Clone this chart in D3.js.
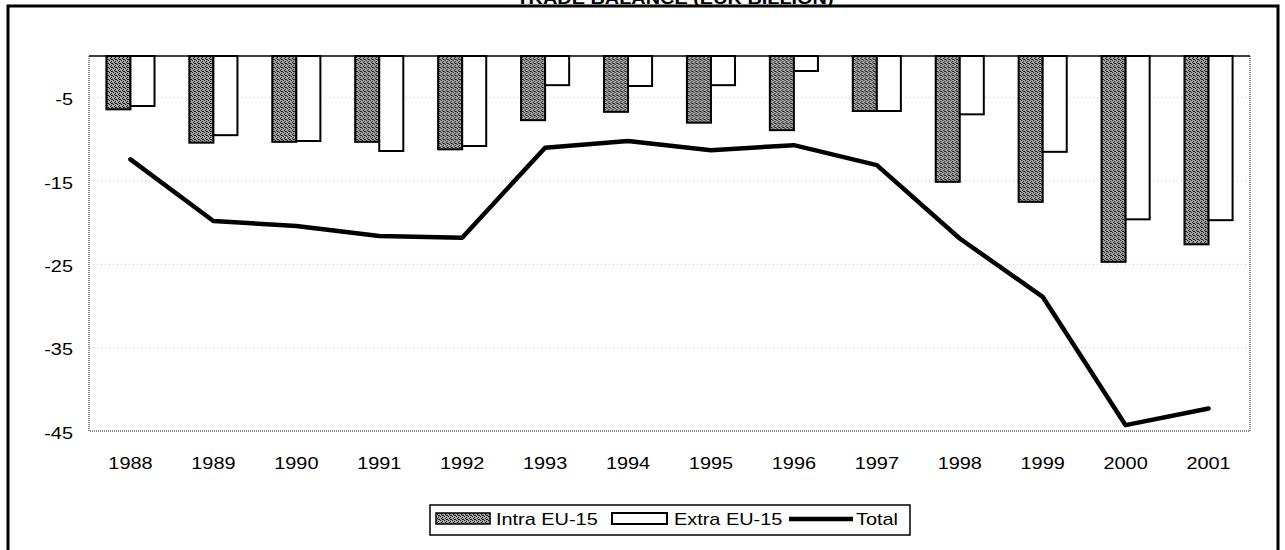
<!DOCTYPE html>
<html>
<head>
<meta charset="utf-8">
<script src="https://cdn.jsdelivr.net/npm/d3@7"></script>
<style>
  body { margin: 0; background: #fff; }
  svg { display: block; }
  text { font-family: "Liberation Sans", Arial, Helvetica, sans-serif; fill: #000; }
</style>
</head>
<body>
<svg id="chart" width="1285" height="550"></svg>
<script>
// Trade balance by partner zone, 1988-2001
const years = [1988, 1989, 1990, 1991, 1992, 1993, 1994, 1995, 1996, 1997, 1998, 1999, 2000, 2001];
const intraEU = [-6.4, -10.4, -10.3, -10.3, -11.2, -7.7, -6.7, -8.0, -8.9, -6.6, -15.1, -17.5, -24.7, -22.6];
const extraEU = [-6.0, -9.5, -10.2, -11.4, -10.8, -3.5, -3.6, -3.5, -1.8, -6.6, -7.0, -11.5, -19.6, -19.7];
const total = [-12.4, -19.8, -20.4, -21.6, -21.8, -11.0, -10.2, -11.3, -10.7, -13.1, -21.9, -28.9, -44.3, -42.3];
const yTicks = [-5, -15, -25, -35, -45];
const gridValues = [-5, -15, -25, -35];
const legendLabels = ["Intra EU-15", "Extra EU-15", "Total"];
const titleText = "TRADE BALANCE (EUR BILLION)";

const SX = 1.17; // the typeface is drawn slightly wide
const svg = d3.select("#chart");

const plot = { left: 89, right: 1250, top: 56, bottom: 431 };

const x = d3.scaleBand().domain(years).range([plot.left, plot.right]).padding(0);
const bw = x.bandwidth();
const xSub = d3.scaleBand().domain(["intra", "extra"]).range([bw * 0.21, bw * 0.79]).padding(0);
const y = d3.scaleLinear().domain([-45, 0]).range([plot.bottom, plot.top]);

// dithered grey fill
const defs = svg.append("defs");
const pat = defs.append("pattern")
  .attr("id", "dither").attr("patternUnits", "userSpaceOnUse")
  .attr("width", 4).attr("height", 4);
pat.append("rect").attr("width", 4).attr("height", 4).attr("fill", "#a8a8a8");
[[0, 0], [2, 1], [1, 2], [3, 3], [2, 3]].forEach(([px, py]) =>
  pat.append("rect").attr("x", px).attr("y", py).attr("width", 1).attr("height", 1).attr("fill", "#111"));

// outer frame
svg.append("path")
  .attr("d", "M8,560V6H1278V560")
  .attr("fill", "none").attr("stroke", "#000").attr("stroke-width", 3);

// title (sits on the top edge)
svg.append("text")
  .attr("transform", `translate(675,4) scale(${SX},1)`)
  .attr("text-anchor", "middle")
  .attr("font-weight", "bold").attr("font-size", 17)
  .text(titleText);

// gridlines
svg.append("g").selectAll("line").data(gridValues).join("line")
  .attr("x1", plot.left).attr("x2", plot.right)
  .attr("y1", d => y(d)).attr("y2", d => y(d))
  .attr("stroke", "#c4c4c4").attr("stroke-width", 1).attr("stroke-dasharray", "1,3");

// plot border (dotted) on left, right, bottom
svg.append("path")
  .attr("d", `M${plot.left},${plot.top}V${plot.bottom}H${plot.right}V${plot.top}`)
  .attr("fill", "none").attr("stroke", "#666").attr("stroke-width", 1.5).attr("stroke-dasharray", "1,1");

// bars
const groups = svg.append("g").selectAll("g").data(years).join("g")
  .attr("transform", d => `translate(${x(d)},0)`);

groups.append("rect")
  .attr("x", xSub("intra")).attr("width", xSub.bandwidth())
  .attr("y", y(0)).attr("height", (d, i) => y(intraEU[i]) - y(0))
  .attr("fill", "url(#dither)").attr("stroke", "#000").attr("stroke-width", 2);

groups.append("rect")
  .attr("x", xSub("extra")).attr("width", xSub.bandwidth())
  .attr("y", y(0)).attr("height", (d, i) => y(extraEU[i]) - y(0))
  .attr("fill", "#fff").attr("stroke", "#000").attr("stroke-width", 2);

// zero line
svg.append("line")
  .attr("x1", plot.left).attr("x2", plot.right)
  .attr("y1", y(0)).attr("y2", y(0))
  .attr("stroke", "#000").attr("stroke-width", 1.5);

// total line
const line = d3.line()
  .x((d, i) => x(years[i]) + bw / 2)
  .y(d => y(d));
svg.append("path")
  .datum(total)
  .attr("d", line)
  .attr("fill", "none").attr("stroke", "#000").attr("stroke-width", 4.5)
  .attr("stroke-linejoin", "round").attr("stroke-linecap", "round");

// y axis (plain hyphen-minus labels)
const yAxis = svg.append("g")
  .attr("transform", `translate(${plot.left},0)`)
  .call(d3.axisLeft(y).tickValues(yTicks).tickSize(0).tickFormat(d => String(d)));
yAxis.select(".domain").remove();
yAxis.selectAll("text")
  .attr("x", 0).attr("dy", null).attr("y", 0)
  .attr("font-size", 17).attr("font-family", null)
  .attr("transform", `translate(-16,7) scale(${SX},1)`);

// x axis
const xAxis = svg.append("g")
  .attr("transform", `translate(0,${plot.bottom})`)
  .call(d3.axisBottom(x).tickSize(0));
xAxis.select(".domain").remove();
xAxis.selectAll("text")
  .attr("y", 0).attr("dy", null)
  .attr("font-size", 17).attr("font-family", null)
  .attr("transform", `translate(0,38) scale(${SX},1)`);

// legend
const lg = svg.append("g");
lg.append("rect")
  .attr("x", 430).attr("y", 505).attr("width", 480).attr("height", 30)
  .attr("fill", "#fff").attr("stroke", "#000").attr("stroke-width", 1.5);
lg.append("rect")
  .attr("x", 436).attr("y", 513).attr("width", 54).attr("height", 11)
  .attr("fill", "url(#dither)").attr("stroke", "#000").attr("stroke-width", 1.5);
lg.append("rect")
  .attr("x", 612).attr("y", 513).attr("width", 55).attr("height", 11)
  .attr("fill", "#fff").attr("stroke", "#000").attr("stroke-width", 2);
lg.append("line")
  .attr("x1", 789).attr("x2", 853).attr("y1", 519).attr("y2", 519)
  .attr("stroke", "#000").attr("stroke-width", 4.5);
const legendX = [496, 674, 856];
lg.selectAll("text.lab").data(legendLabels).join("text")
  .attr("class", "lab")
  .attr("font-size", 17)
  .attr("transform", (d, i) => `translate(${legendX[i]},525) scale(${SX},1)`)
  .text(d => d);
</script>
</body>
</html>
